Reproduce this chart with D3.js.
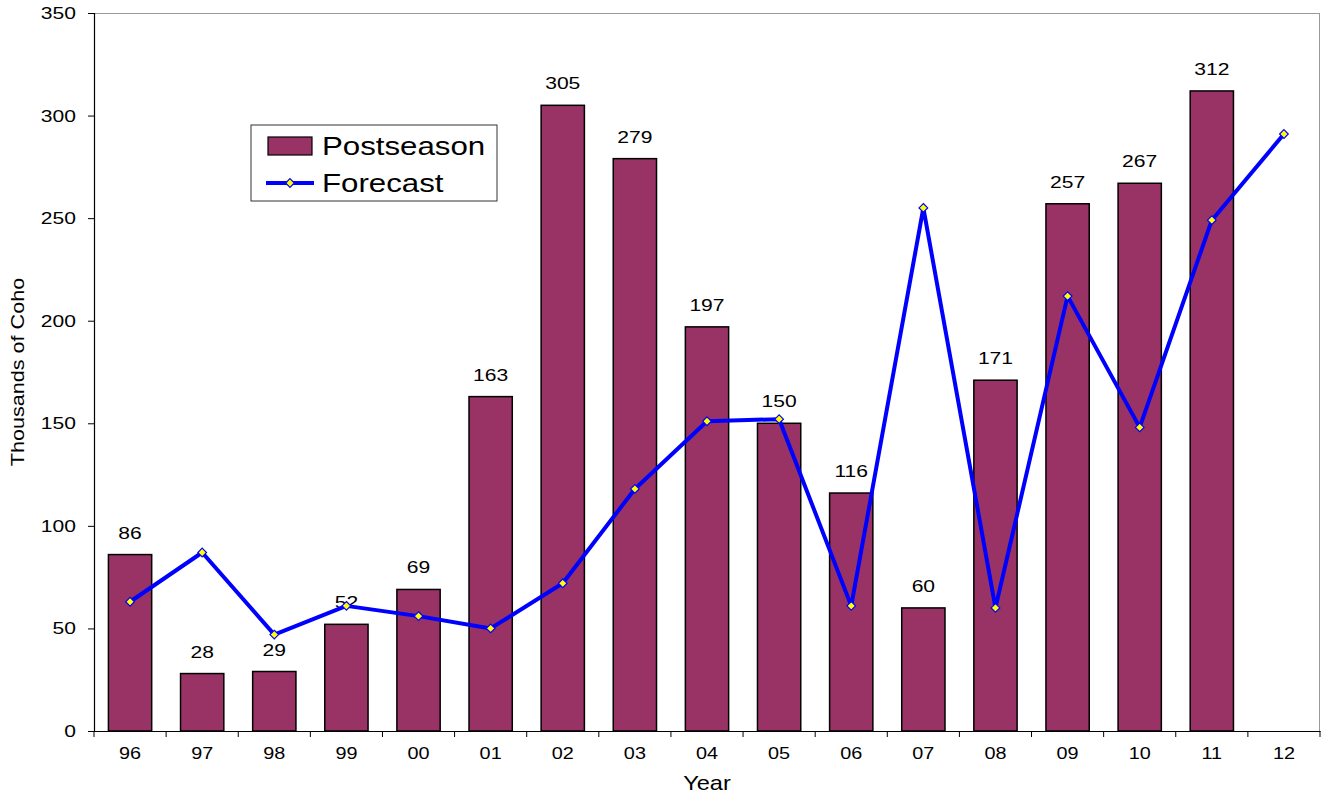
<!DOCTYPE html>
<html>
<head>
<meta charset="utf-8">
<script src="https://cdn.jsdelivr.net/npm/d3@7"></script>
<style>
  body { margin: 0; background: #fff; }
  svg { font-family: "Liberation Sans", Arial, sans-serif; }
</style>
</head>
<body>
<figure id="chart" style="margin:0"></figure>
<script>
const years = ["96", "97", "98", "99", "00", "01", "02", "03", "04", "05", "06", "07", "08", "09", "10", "11", "12"];
const postseason = [86, 28, 29, 52, 69, 163, 305, 279, 197, 150, 116, 60, 171, 257, 267, 312, null];
const forecast = [63, 87, 47, 61, 56, 50, 72, 118, 151, 152, 61, 255, 60, 212, 148, 249, 291];
const yTicks = [0, 50, 100, 150, 200, 250, 300, 350];

const width = 1329, height = 795;
const margin = { top: 13, right: 9, bottom: 64, left: 94 };
const w = width - margin.left - margin.right;
const h = height - margin.top - margin.bottom;
const stretchK = 1.24;

// the original text is drawn a little wide, so stretch it sideways around its anchor
function stretch(sel, k) {
  sel.each(function () {
    const t = d3.select(this);
    const tx = +t.attr("x") || 0, ty = +t.attr("y") || 0;
    const prev = t.attr("transform") || "";
    t.attr("transform", prev + " translate(" + tx + "," + ty + ") scale(" + k + ",1) translate(" + (-tx) + "," + (-ty) + ")");
  });
}

const svg = d3.select("#chart").append("svg")
  .attr("width", width)
  .attr("height", height);

const g = svg.append("g")
  .attr("transform", "translate(" + margin.left + "," + margin.top + ")");

const xb = d3.scaleBand().domain(years).range([0, w]);
const y = d3.scaleLinear().domain([0, 350]).range([h, 0]);

// frame: light top and right edges
g.append("line").attr("x1", 0).attr("x2", w).attr("y1", 0.5).attr("y2", 0.5)
  .attr("stroke", "#999").attr("stroke-width", 1);
g.append("line").attr("x1", w - 0.5).attr("x2", w - 0.5).attr("y1", 0).attr("y2", h)
  .attr("stroke", "#999").attr("stroke-width", 1);

// bars
const bars = years.map((d, i) => ({ year: d, value: postseason[i] })).filter(d => d.value != null);
g.selectAll("rect.bar")
  .data(bars)
  .enter()
  .append("rect")
  .attr("class", "bar")
  .attr("x", d => xb(d.year) + xb.bandwidth() * 0.2)
  .attr("y", d => y(d.value))
  .attr("width", xb.bandwidth() * 0.6)
  .attr("height", d => h - y(d.value))
  .attr("fill", "#993366")
  .attr("stroke", "#000")
  .attr("stroke-width", 1.5);

// bar labels
g.selectAll("text.lbl")
  .data(bars)
  .enter()
  .append("text")
  .attr("class", "lbl")
  .attr("x", d => xb(d.year) + xb.bandwidth() / 2)
  .attr("y", d => y(d.value) - 16)
  .attr("text-anchor", "middle")
  .attr("font-size", 17)
  .text(d => d.value)
  .call(stretch, stretchK);

// forecast line
const pts = years.map((d, i) => ({ year: d, value: forecast[i] }));
const line = d3.line()
  .x(d => xb(d.year) + xb.bandwidth() / 2)
  .y(d => y(d.value));

g.append("path")
  .datum(pts)
  .attr("d", line)
  .attr("fill", "none")
  .attr("stroke", "#0000ff")
  .attr("stroke-width", 4)
  .attr("stroke-linejoin", "round");

const diamond = d3.symbol().type(d3.symbolDiamond2).size(48);
g.selectAll("path.mk")
  .data(pts)
  .enter()
  .append("path")
  .attr("class", "mk")
  .attr("d", diamond)
  .attr("transform", d => "translate(" + (xb(d.year) + xb.bandwidth() / 2) + "," + y(d.value) + ")")
  .attr("fill", "#ffff00")
  .attr("stroke", "#0000ff")
  .attr("stroke-width", 1.2);

// axes
const yAxis = g.append("g")
  .call(d3.axisLeft(y).tickValues(yTicks).tickSize(6).tickPadding(12));
yAxis.selectAll("text").attr("font-size", 17).attr("fill", "#000")
  .style("font-family", "Liberation Sans, Arial, sans-serif").call(stretch, stretchK);
yAxis.select(".domain").attr("stroke", "#000").attr("stroke-width", 1.2);

const xAxis = g.append("g")
  .attr("transform", "translate(0," + h + ")")
  .call(d3.axisBottom(xb).tickSize(0).tickPadding(17));
xAxis.selectAll("text").attr("font-size", 16).attr("fill", "#000")
  .style("font-family", "Liberation Sans, Arial, sans-serif").call(stretch, stretchK);
xAxis.select(".domain").attr("stroke", "#000").attr("stroke-width", 1.2);

// tick marks between categories
g.append("g")
  .selectAll("line")
  .data(years.concat(["end"]))
  .enter()
  .append("line")
  .attr("x1", (d, i) => i * xb.bandwidth())
  .attr("x2", (d, i) => i * xb.bandwidth())
  .attr("y1", h)
  .attr("y2", h + 6)
  .attr("stroke", "#000")
  .attr("stroke-width", 1);

// axis titles
svg.append("g")
  .attr("transform", "translate(24," + (margin.top + h / 2) + ") rotate(-90)")
  .append("text")
  .attr("text-anchor", "middle")
  .attr("font-size", 18)
  .text("Thousands of Coho")
  .call(stretch, 1.2);

svg.append("text")
  .attr("x", margin.left + w / 2)
  .attr("y", 790)
  .attr("text-anchor", "middle")
  .attr("font-size", 20)
  .text("Year")
  .call(stretch, 1.18);

// legend
const lg = svg.append("g").attr("transform", "translate(251,125)");
lg.append("rect").attr("width", 246).attr("height", 76)
  .attr("fill", "#fff").attr("stroke", "#333").attr("stroke-width", 1);
lg.append("rect").attr("x", 17).attr("y", 12).attr("width", 44).attr("height", 18)
  .attr("fill", "#993366").attr("stroke", "#000").attr("stroke-width", 1.2);
lg.append("text").attr("x", 71).attr("y", 30).attr("font-size", 25).text("Postseason").call(stretch, 1.25);
lg.append("line").attr("x1", 15).attr("x2", 63).attr("y1", 58).attr("y2", 58)
  .attr("stroke", "#0000ff").attr("stroke-width", 4);
lg.append("path").attr("d", diamond).attr("transform", "translate(39,58)")
  .attr("fill", "#ffff00").attr("stroke", "#0000ff").attr("stroke-width", 1.2);
lg.append("text").attr("x", 71).attr("y", 67).attr("font-size", 25).text("Forecast").call(stretch, 1.25);
</script>
</body>
</html>
